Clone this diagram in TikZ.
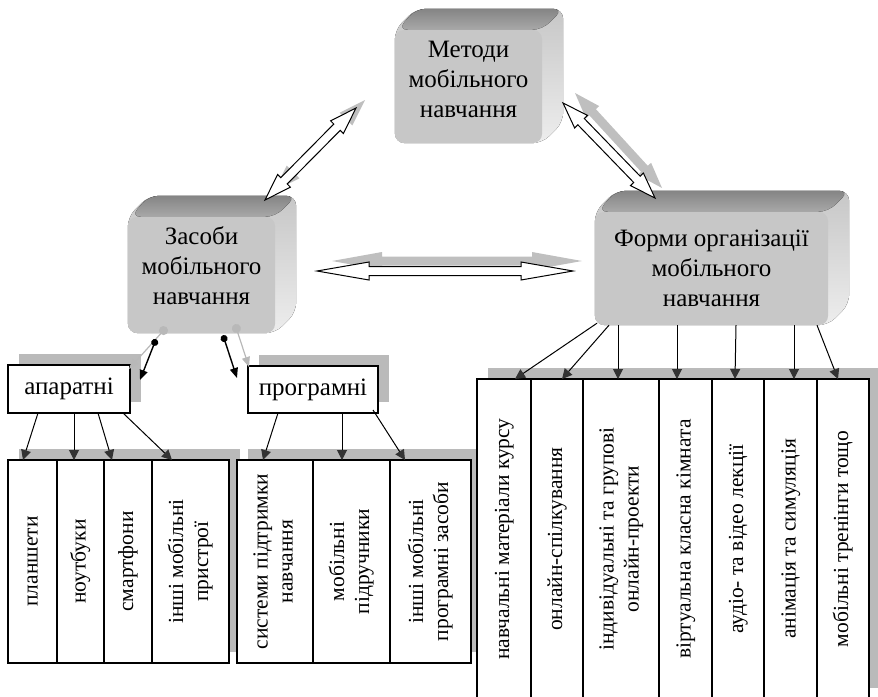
\documentclass[tikz,border=0pt]{standalone}
\usepackage{fontspec}
\setmainfont{Liberation Serif}
\usepackage{graphicx}
\usetikzlibrary{positioning,calc,arrows.meta,shadows,backgrounds}

% rotated text for the narrow boxes
\newcommand{\vtext}[1]{\rotatebox{90}{\begin{tabular}{@{}c@{}}#1\end{tabular}}}
% text set a little higher than the middle of its box
\newcommand{\lifted}[2]{\raisebox{#1}[\height][\depth]{\begin{tabular}{@{}c@{}}#2\end{tabular}}}

% top and right faces of a 3d box behind the front node
\newcommand{\boxsides}[1]{%
  \fill[sideface, rounded corners=10pt] (#1.south west) -- (#1.north west)
    -- ([shift={(21pt,21pt)}]#1.north west) -- ([shift={(21pt,21pt)}]#1.north east)
    -- ([shift={(21pt,21pt)}]#1.south east) -- (#1.south east) -- cycle;
  \fill[topface, rounded corners=10pt] ([xshift=3pt]#1.north west) -- ([shift={(21pt,21pt)}]#1.north west)
    -- ([shift={(21pt,21pt)}]#1.north east) -- (#1.north east) -- cycle;}

% hollow double arrow from #2 to #3, head length #4
\newcommand{\dblarrow}[4][]{%
  \path[#1] (#2) -- ($(#2)!#4!(#3)!9pt!90:(#3)$) -- ($(#2)!#4!(#3)!4.5pt!90:(#3)$)
    -- ($(#3)!#4!(#2)!4.5pt!-90:(#2)$) -- ($(#3)!#4!(#2)!9pt!-90:(#2)$) -- (#3)
    -- ($(#3)!#4!(#2)!9pt!90:(#2)$) -- ($(#3)!#4!(#2)!4.5pt!90:(#2)$)
    -- ($(#2)!#4!(#3)!4.5pt!-90:(#3)$) -- ($(#2)!#4!(#3)!9pt!-90:(#3)$) -- cycle;}

\begin{document}
\begin{tikzpicture}[x=1pt,y=-1pt,
    mainbox/.style={rounded corners=9pt, fill=black!22, inner sep=0pt, align=center,
      font=\fontsize{25}{30}\selectfont},
    topface/.style={top color=black!48, bottom color=black!34},
    sideface/.style={top color=black!22, bottom color=black!7},
    flat/.style={drop shadow={shadow xshift=11pt, shadow yshift=11pt, fill=black!27, opacity=1}},
    catbox/.style={draw, line width=1.2pt, fill=white, inner sep=0pt, outer sep=0pt, flat,
      font=\fontsize{25}{30}\selectfont},
    leaf/.style={draw, line width=1.2pt, fill=white, inner sep=0pt, outer sep=0pt, flat,
      font=\fontsize{21.5}{25}\selectfont},
    leafarrow/.style={line width=1pt, -{Triangle[length=10pt,width=10pt,color=black!80]}},
    dotarrow/.style={line width=1.4pt, {Circle[length=7pt]}-{Triangle[length=10pt,width=8pt]}},
    dotshadow/.style={line width=1.2pt, black!28, {Circle[length=9pt]}-{Triangle[length=10pt,width=8pt]}},
    blockarrow/.style={draw=black, line width=1pt, fill=white},
    blockshadow/.style={fill=black!25}]
  \useasboundingbox (0,0) rectangle (878,696);

  % the three 3d boxes
  \node[mainbox, minimum width=147pt, minimum height=113pt] (metod) at (468.5,86.5)
    {\lifted{5pt}{Методи\\мобільного\\навчання}};
  \node[mainbox, minimum width=147pt, minimum height=116pt] (zasob) at (201.5,275)
    {\lifted{7pt}{Засоби\\мобільного\\навчання}};
  \node[mainbox, minimum width=233pt, minimum height=113pt] (form) at (711.5,268.5)
    {Форми організації\\мобільного\\навчання};
  \begin{scope}[on background layer]
    \boxsides{metod}
    \boxsides{zasob}
    \boxsides{form}
  \end{scope}

  % hardware and software
  \node[catbox, minimum width=122pt, minimum height=48pt] (apar) at (69,389) {апаратні};
  \node[catbox, minimum width=130pt, minimum height=47pt] (prog) at (313,389.5) {програмні};

  % hardware boxes
  \node[leaf, minimum width=49pt, minimum height=203pt] (l1) at (32.5,561.5) {\vtext{планшети}};
  \node[leaf, minimum width=47pt, minimum height=203pt, right=0pt of l1] (l2) {\vtext{ноутбуки}};
  \node[leaf, minimum width=48pt, minimum height=203pt, right=0pt of l2] (l3) {\vtext{смартфони}};
  \node[leaf, minimum width=77pt, minimum height=203pt, right=0pt of l3] (l4) {\vtext{інші мобільні\\пристрої}};

  % software boxes
  \node[leaf, minimum width=76pt, minimum height=203pt] (s1) at (275,561.5) {\vtext{системи підтримки\\навчання}};
  \node[leaf, minimum width=77pt, minimum height=203pt, right=0pt of s1] (s2) {\vtext{мобільні\\підручники}};
  \node[leaf, minimum width=81pt, minimum height=203pt, right=0pt of s2] (s3) {\vtext{інші мобільні\\програмні засоби}};

  % forms boxes
  \node[leaf, minimum width=54pt, minimum height=320pt] (f1) at (504,539) {\vtext{навчальні матеріали курсу}};
  \node[leaf, minimum width=52pt, minimum height=320pt, right=0pt of f1] (f2) {\vtext{онлайн-спілкування}};
  \node[leaf, minimum width=76pt, minimum height=320pt, right=0pt of f2] (f3) {\vtext{індивідуальні та групові\\онлайн-проекти}};
  \node[leaf, minimum width=53pt, minimum height=320pt, right=0pt of f3] (f4) {\vtext{віртуальна класна кімната}};
  \node[leaf, minimum width=52pt, minimum height=320pt, right=0pt of f4] (f5) {\vtext{аудіо- та відео лекції}};
  \node[leaf, minimum width=53pt, minimum height=320pt, right=0pt of f5] (f6) {\vtext{анімація та симуляція}};
  \node[leaf, minimum width=52pt, minimum height=320pt, right=0pt of f6] (f7) {\vtext{мобільні тренінги тощо}};

  % ends of the block arrows
  \coordinate (D1) at (265,200);
  \coordinate (D2) at (356,108);
  \coordinate (E1) at (563,103);
  \coordinate (E2) at (655,198);
  \coordinate (H1) at (317,271);
  \coordinate (H2) at (573,271);
  \coordinate (D1s) at (274,191);
  \coordinate (D2s) at (365,100);
  \coordinate (E1s) at (575,93);
  \coordinate (E2s) at (662,188);
  \coordinate (H1s) at (332,261);
  \coordinate (H2s) at (582,261);

  % block arrows with their shadows
  \dblarrow[blockshadow]{D1s}{D2s}{27pt}
  \dblarrow[blockshadow]{E1s}{E2s}{26pt}
  \dblarrow[blockshadow]{H1s}{H2s}{50pt}
  \dblarrow[blockarrow]{D1}{D2}{27pt}
  \dblarrow[blockarrow]{E1}{E2}{26pt}
  \dblarrow[blockarrow]{H1}{H2}{52pt}

  % from the tools box down to hardware and software
  \draw[dotshadow] ([shift={(-35pt,6pt)}]zasob.south) -- ([shift={(-1pt,20pt)}]apar.east);
  \draw[dotshadow] ([shift={(33.5pt,9pt)}]zasob.south) -- ([shift={(1pt,22.5pt)}]prog.west);
  \draw[dotarrow] ([shift={(-45.5pt,-6pt)}]zasob.south) -- ([shift={(10pt,9pt)}]apar.east);
  \draw[dotarrow] ([shift={(21.5pt,-2pt)}]zasob.south) -- ([shift={(-11pt,11.5pt)}]prog.west);

  % hardware arrows
  \draw[leafarrow] ([xshift=-31pt]apar.south) -- ([xshift=-9.5pt]l1.north);
  \draw[leafarrow] ([xshift=5pt]apar.south) -- ([xshift=-6.5pt]l2.north);
  \draw[leafarrow] ([xshift=29pt]apar.south) -- ([xshift=-16pt]l3.north);
  \draw[leafarrow] ([xshift=54pt]apar.south) -- ([xshift=-18.5pt]l4.north);

  % software arrows
  \draw[leafarrow] ([xshift=-35pt]prog.south) -- ([xshift=-12pt]s1.north);
  \draw[leafarrow] ([xshift=29pt]prog.south) -- ([xshift=-9.5pt]s2.north);
  \draw[leafarrow] ([shift={(-5pt,3pt)}]prog.south east) -- ([xshift=-25.5pt]s3.north);

  % forms arrows
  \draw[leafarrow] ([shift={(-114.5pt,2pt)}]form.south) -- ([xshift=11pt]f1.north);
  \draw[leafarrow] ([xshift=-102.5pt]form.south) -- ([xshift=5pt]f2.north);
  \draw[leafarrow] ([xshift=-93.5pt]form.south) -- ([xshift=-3pt]f3.north);
  \draw[leafarrow] ([xshift=-34.5pt]form.south) -- ([xshift=-8.5pt]f4.north);
  \draw[leafarrow] ([xshift=24.5pt]form.south) -- ([xshift=-3pt]f5.north);
  \draw[leafarrow] ([xshift=82.5pt]form.south) -- ([xshift=3.5pt]f6.north);
  \draw[leafarrow] ([xshift=105.5pt]form.south) -- ([xshift=-5pt]f7.north);
\end{tikzpicture}
\end{document}
